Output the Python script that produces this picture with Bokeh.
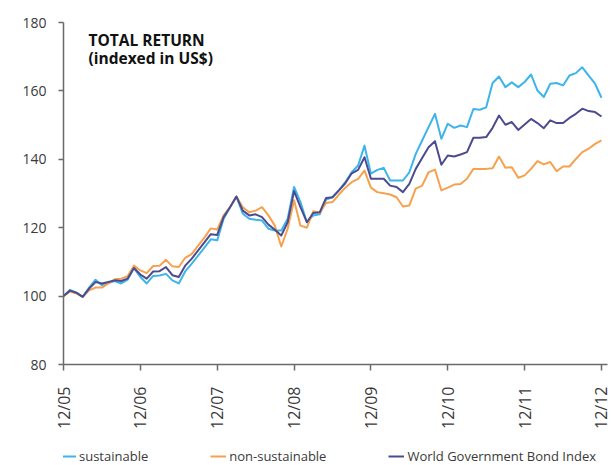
import math
from bokeh.plotting import figure
from bokeh.layouts import column
from bokeh.models import Legend, LegendItem, Label, FixedTicker, Range1d
from bokeh.embed import file_html
from bokeh.resources import INLINE

# monthly index: 0 = Dec 2005 ... 84 = Dec 2012
months = list(range(85))

sustainable = [
    100.0, 101.8, 101.0, 99.8, 102.5, 104.8, 103.2, 103.8, 104.4, 103.7,
    104.8, 108.2, 105.6, 103.7, 105.9, 106.0, 106.5, 104.6, 103.7, 107.2,
    109.4, 111.8, 114.2, 116.6, 116.3, 122.6, 126.0, 129.1, 124.1, 122.6,
    122.3, 122.1, 119.7, 119.2, 119.2, 122.6, 131.9, 127.5, 121.6, 123.6,
    123.9, 128.2, 128.9, 130.9, 133.3, 136.2, 138.2, 144.0, 135.8, 136.9,
    137.5, 133.8, 133.8, 133.8, 136.2, 141.6, 145.5, 149.4, 153.3, 146.0,
    150.4, 149.2, 149.9, 149.4, 154.7, 154.5, 155.2, 162.3, 164.2, 161.1,
    162.5, 161.1, 162.6, 164.8, 160.1, 158.2, 162.1, 162.3, 161.6, 164.5,
    165.2, 166.9, 164.5, 162.1, 158.0,
]

non_sustainable = [
    100.0, 101.3, 100.8, 99.8, 101.7, 102.5, 102.5, 103.7, 104.9, 105.1,
    105.8, 108.9, 107.5, 106.7, 108.8, 108.9, 110.6, 108.7, 108.5, 111.2,
    112.3, 114.7, 117.1, 119.8, 119.5, 123.6, 126.0, 129.1, 126.0, 124.5,
    125.0, 126.0, 123.6, 120.6, 114.5, 119.7, 128.0, 120.6, 120.0, 124.8,
    124.3, 127.2, 127.5, 129.7, 131.7, 133.3, 134.3, 136.7, 131.7, 130.4,
    130.1, 129.7, 128.9, 126.2, 126.5, 131.4, 132.3, 136.2, 137.0, 130.9,
    131.7, 132.6, 132.8, 134.3, 137.2, 137.2, 137.2, 137.4, 140.8, 137.5,
    137.7, 134.6, 135.3, 137.2, 139.5, 138.5, 139.2, 136.5, 137.9, 137.9,
    140.1, 142.1, 143.1, 144.5, 145.5,
]

wgbi = [
    100.0, 101.6, 101.0, 99.8, 102.2, 104.1, 103.7, 104.1, 104.6, 104.4,
    105.1, 108.2, 106.3, 105.1, 107.2, 107.3, 108.5, 106.1, 105.6, 108.9,
    110.9, 113.3, 115.7, 118.1, 117.9, 123.1, 126.0, 129.1, 125.0, 123.6,
    123.9, 123.1, 120.9, 119.4, 117.7, 121.6, 130.7, 126.0, 121.6, 124.3,
    124.5, 128.7, 128.9, 130.9, 133.0, 135.9, 136.9, 140.6, 134.3, 134.3,
    134.3, 132.3, 131.9, 130.4, 132.8, 137.2, 140.4, 143.5, 145.3, 138.4,
    141.1, 140.8, 141.4, 142.1, 146.3, 146.3, 146.5, 149.2, 152.8, 150.1,
    150.9, 148.6, 150.2, 151.8, 150.6, 149.1, 151.4, 150.6, 150.6, 152.1,
    153.3, 154.8, 154.1, 153.8, 152.5,
]

tick_months = [0, 12, 24, 36, 48, 60, 72, 84]
tick_labels = ["12/05", "12/06", "12/07", "12/08", "12/09", "12/10", "12/11", "12/12"]
y_ticks = [80, 100, 120, 140, 160, 180]

series_names = ["sustainable", "non-sustainable", "World Government Bond Index"]
series_values = [sustainable, non_sustainable, wgbi]
colors = ["#3db4ea", "#f7a14e", "#4d4b8f"]

FONT = "Open Sans"
TEXT_COLOR = "#3a3a3a"

p = figure(width=611, height=443, output_backend="svg", toolbar_location=None,
           x_range=Range1d(0, 84.94), y_range=Range1d(80, 180),
           min_border_left=63, min_border_top=22, min_border_right=4,
           min_border_bottom=79)
p.xgrid.grid_line_color = None
p.ygrid.grid_line_color = None
p.outline_line_color = None
p.background_fill_color = "white"
p.border_fill_color = "white"

for vals, col in zip(series_values, colors):
    p.line(months, vals, line_color=col, line_width=2, line_join="round")

# axes
xa = p.xaxis[0]
xa.ticker = FixedTicker(ticks=tick_months)
xa.major_label_overrides = {m: l for m, l in zip(tick_months, tick_labels)}
xa.major_label_orientation = math.pi / 2
xa.minor_tick_line_color = None
xa.major_tick_in = 0
xa.major_tick_out = 6
xa.major_label_standoff = 16
xa.axis_line_color = "#6a6a6a"
xa.axis_line_width = 1.5
xa.major_tick_line_color = "#6a6a6a"
xa.major_tick_line_width = 1.5
xa.major_label_text_font = FONT
xa.major_label_text_font_size = "16px"
xa.major_label_text_color = TEXT_COLOR

ya = p.yaxis[0]
ya.ticker = FixedTicker(ticks=y_ticks)
ya.minor_tick_line_color = None
ya.major_tick_in = 0
ya.major_tick_out = 5
ya.major_label_standoff = 12
ya.axis_line_color = "#6a6a6a"
ya.axis_line_width = 1.5
ya.major_tick_line_color = "#6a6a6a"
ya.major_tick_line_width = 1.5
ya.major_label_text_font = FONT
ya.major_label_text_font_size = "14px"
ya.major_label_text_color = TEXT_COLOR

# title
for txt, yy in [("TOTAL RETURN", 325), ("(indexed in US$)", 307)]:
    p.add_layout(Label(x=25, y=yy, x_units="screen", y_units="screen", text=txt,
                       text_font=FONT, text_font_style="bold", text_font_size="15.5px",
                       text_color="#111111", text_baseline="alphabetic"))

# legend strip below the chart (series drawn out of view; only swatches show)
lg = figure(width=611, height=22, output_backend="svg", toolbar_location=None,
            x_axis_type=None, y_axis_type=None, min_border=0,
            x_range=Range1d(0, 1), y_range=Range1d(0, 1))
lg.xgrid.grid_line_color = None
lg.ygrid.grid_line_color = None
lg.outline_line_color = None
items = []
for name, vals, col in zip(series_names, series_values, colors):
    r = lg.line(months, vals, line_color=col, line_width=2)
    items.append(LegendItem(label=name, renderers=[r]))
leg = Legend(items=items, location=(-3, 0), orientation="horizontal",
             glyph_width=16, glyph_height=14, label_height=14, label_standoff=3,
             padding=0, margin=0, spacing=62, border_line_color=None,
             background_fill_alpha=0, label_text_font=FONT,
             label_text_font_size="13px", label_text_color=TEXT_COLOR)
lg.add_layout(leg)

layout = column(p, lg, spacing=0)
open("out.html", "w").write(file_html(layout, INLINE))
